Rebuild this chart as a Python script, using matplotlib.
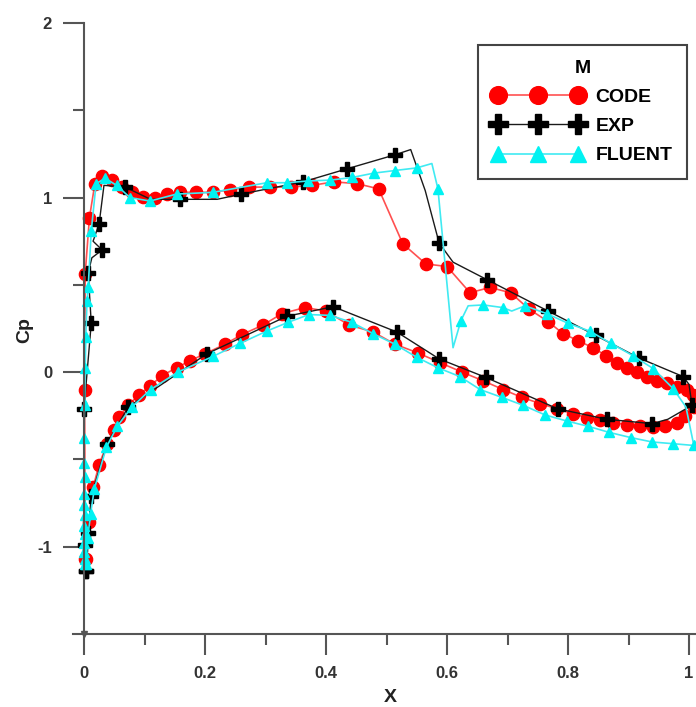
import numpy as np
import matplotlib
matplotlib.use("Agg")
import matplotlib.pyplot as plt

plt.rcParams['font.family'] = ['Liberation Sans', 'DejaVu Sans']
plt.rcParams['font.weight'] = 'bold'

# CODE: upper surface LE -> TE, then lower surface TE -> LE
code_x = [0.002, 0.001, 0.002, 0.009, 0.018, 0.030, 0.046, 0.062, 0.079, 0.098,
          0.117, 0.137, 0.159, 0.185, 0.213, 0.241, 0.273, 0.307, 0.342, 0.377,
          0.413, 0.451, 0.487, 0.527, 0.565, 0.600, 0.638, 0.671, 0.705, 0.736,
          0.767, 0.792, 0.817, 0.841, 0.863, 0.881, 0.897, 0.914, 0.930, 0.947,
          0.963, 0.980, 0.996, 1.007, 1.008,
          0.993, 0.980, 0.960, 0.940, 0.919, 0.897, 0.875, 0.853, 0.831, 0.809,
          0.782, 0.754, 0.724, 0.693, 0.660, 0.625, 0.588, 0.552, 0.514, 0.478,
          0.438, 0.400, 0.365, 0.327, 0.296, 0.261, 0.233, 0.200, 0.175, 0.153,
          0.129, 0.109, 0.091, 0.073, 0.058, 0.049, 0.038, 0.025, 0.015, 0.008,
          0.003]
code_cp = [-1.07, -0.10, 0.565, 0.885, 1.08, 1.125, 1.10, 1.06, 1.03, 1.005,
           1.00, 1.02, 1.03, 1.03, 1.03, 1.045, 1.06, 1.06, 1.06, 1.07,
           1.09, 1.08, 1.05, 0.735, 0.62, 0.605, 0.455, 0.485, 0.455, 0.36,
           0.29, 0.22, 0.18, 0.14, 0.095, 0.055, 0.025, 0.0, -0.03, -0.05,
           -0.065, -0.085, -0.105, -0.13, -0.20,
           -0.25, -0.29, -0.31, -0.315, -0.31, -0.30, -0.29, -0.275, -0.26, -0.24,
           -0.21, -0.18, -0.145, -0.10, -0.05, 0.0, 0.055, 0.11, 0.16, 0.23,
           0.27, 0.35, 0.37, 0.335, 0.27, 0.215, 0.16, 0.105, 0.065, 0.025,
           -0.02, -0.08, -0.13, -0.19, -0.255, -0.33, -0.41, -0.53, -0.66, -0.86,
           -1.07]

# EXP: experimental curve, markers only on measured points
exp_x = [0.003, 0.001, 0.000, 0.012, 0.007, 0.013, 0.030, 0.015, 0.025, 0.033,
         0.068, 0.110, 0.159, 0.220, 0.260, 0.362, 0.435, 0.514, 0.540, 0.564,
         0.587, 0.610, 0.666, 0.767, 0.846, 0.918, 0.990, 1.000, 1.005,
         0.965, 0.939, 0.864, 0.783, 0.664, 0.587, 0.517, 0.412, 0.335, 0.203,
         0.073, 0.038, 0.012, 0.007, 0.004]
exp_cp = [-1.14, -0.99, -0.21, 0.28, 0.57, 0.655, 0.70, 0.75, 0.85, 1.07,
          1.06, 0.99, 0.99, 0.99, 1.02, 1.09, 1.165, 1.245, 1.275, 1.04,
          0.74, 0.63, 0.53, 0.35, 0.21, 0.08, -0.025, -0.07, -0.19,
          -0.27, -0.295, -0.27, -0.21, -0.03, 0.076, 0.23, 0.375, 0.32, 0.105,
          -0.20, -0.41, -0.71, -0.92, -1.14]
exp_nomark = [5, 7, 9, 11, 13, 18, 19, 21, 27, 29]

# FLUENT
fl_x = [0.002, 0.001, 0.000, 0.000, 0.001, 0.000, 0.001, 0.000, 0.000, 0.001,
        0.000, 0.000, 0.001, 0.002, 0.003, 0.005, 0.007, 0.012, 0.020, 0.035,
        0.054, 0.076, 0.109, 0.153, 0.213, 0.302, 0.336, 0.370, 0.407, 0.443,
        0.479, 0.514, 0.550, 0.575, 0.585, 0.610, 0.623, 0.635, 0.660, 0.692,
        0.707, 0.729, 0.765, 0.800, 0.836, 0.871, 0.907, 0.941, 0.974, 0.995,
        1.008,
        0.974, 0.939, 0.904, 0.868, 0.833, 0.798, 0.762, 0.726, 0.691, 0.655,
        0.621, 0.585, 0.550, 0.514, 0.478, 0.443, 0.407, 0.372, 0.337, 0.302,
        0.258, 0.213, 0.155, 0.110, 0.079, 0.055, 0.037, 0.017, 0.011, 0.006,
        0.003]
fl_cp = [-1.10, -1.07, -1.03, -0.98, -0.93, -0.88, -0.82, -0.76, -0.70, -0.60,
         -0.52, -0.38, -0.19, 0.025, 0.20, 0.41, 0.49, 0.81, 1.08, 1.11,
         1.07, 1.00, 0.98, 1.02, 1.03, 1.085, 1.085, 1.095, 1.10, 1.115,
         1.14, 1.155, 1.17, 1.195, 1.05, 0.14, 0.295, 0.38, 0.385, 0.37,
         0.35, 0.38, 0.335, 0.28, 0.235, 0.165, 0.095, 0.02, -0.095, -0.20,
         -0.42,
         -0.41, -0.40, -0.375, -0.345, -0.31, -0.28, -0.245, -0.19, -0.145, -0.10,
         -0.025, 0.025, 0.085, 0.16, 0.22, 0.285, 0.325, 0.33, 0.285, 0.235,
         0.165, 0.09, 0.0, -0.10, -0.20, -0.31, -0.43, -0.67, -0.81, -0.95,
         -1.10]
fl_nomark = [33, 35, 37, 40, 49]

W, H = 696, 707
fig = plt.figure(figsize=(W / 100, H / 100), dpi=100)
ax = fig.add_axes([73 / W, (H - 634) / H, 623 / W, 611 / H])

exp_mask = [i not in exp_nomark for i in range(len(exp_x))]
fl_mask = [i not in fl_nomark for i in range(len(fl_x))]

ax.plot(code_x, code_cp, '-', color='#ff5050', lw=1.2, marker='o', ms=8.8,
        mfc='#ff0000', mec='#ff0000', label='CODE')
ax.plot(exp_x, exp_cp, '-', color='#1a1a1a', lw=1.0, marker='P', ms=9.5,
        mfc='black', mec='black', markevery=exp_mask, label='EXP')
ax.plot(fl_x, fl_cp, '-', color='#40eaf2', lw=1.2, marker='^', ms=7.5,
        mfc='#00f2f2', mec='#00f2f2', markevery=fl_mask, label='FLUENT')

ax.set_xlim(-11 / 605, 612 / 605)
ax.set_ylim(-1.5, 2)

gray = '#555555'
ax.spines['top'].set_visible(False)
ax.spines['right'].set_visible(False)
ax.spines['left'].set_position(('data', 0))
for s in ['left', 'bottom']:
    ax.spines[s].set_color(gray)
    ax.spines[s].set_linewidth(1.5)
ax.plot(0, -1.5, marker='v', ms=4, color=gray, clip_on=False)

ax.set_xticks([0, 0.2, 0.4, 0.6, 0.8, 1.0])
ax.set_xticklabels(['0', '0.2', '0.4', '0.6', '0.8', '1'])
ax.set_xticks([0.1, 0.3, 0.5, 0.7, 0.9], minor=True)
ax.set_yticks([-1, 0, 1, 2])
ax.set_yticklabels(['-1', '0', '1', '2'])
ax.set_yticks([-0.5, 0.5, 1.5], minor=True)
ax.tick_params(which='major', direction='out', length=15, width=1.5, color=gray,
               labelsize=12, labelcolor='#333333', pad=8)
ax.tick_params(which='minor', direction='out', length=8, width=1.5, color=gray)
for lab in ax.get_xticklabels() + ax.get_yticklabels():
    lab.set_fontweight('bold')

ax.set_xlabel('X', fontsize=14, fontweight='bold', color='#222222')
ax.set_ylabel('Cp', fontsize=14, fontweight='bold', color='#222222')
ax.xaxis.set_label_coords((390 - 73) / 623, -(689 - 634) / 611)
ax.yaxis.set_label_coords(-(73 - 33) / 623, (634 - 330) / 611)

leg = ax.legend(loc='upper left', bbox_to_anchor=((478 - 73) / 623, (634 - 45) / 611),
                borderaxespad=0, numpoints=3, handlelength=4.7, handletextpad=0.6,
                markerscale=1.45, labelspacing=0.6, borderpad=0.75, fancybox=False,
                framealpha=1, edgecolor='#444444', title='M',
                title_fontproperties={'weight': 'bold', 'size': 14},
                prop={'weight': 'bold', 'size': 14})
leg.get_frame().set_linewidth(1.5)

fig.savefig('out.png', dpi=100)
